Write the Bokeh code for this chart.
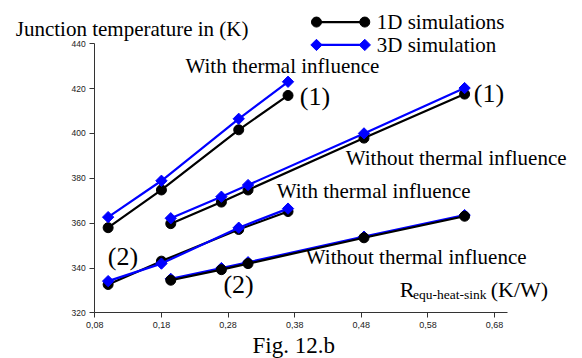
import numpy as np
from bokeh.plotting import figure
from bokeh.models import Label, FixedTicker, Range1d
from bokeh.embed import file_html
from bokeh.resources import INLINE

# ---- data ----
x_short = [0.10, 0.18, 0.296, 0.37]
x_long = [0.194, 0.27, 0.31, 0.484, 0.635]

with1_1d = [358.0, 374.8, 401.6, 416.9]
with1_3d = [362.7, 378.9, 406.5, 423.0]
without1_1d = [359.8, 369.4, 374.8, 397.9, 417.5]
without1_3d = [362.2, 371.8, 377.0, 400.0, 420.2]
with2_1d = [332.7, 343.1, 357.2, 365.2]
with2_3d = [334.2, 342.0, 358.0, 366.5]
without2_1d = [334.6, 339.3, 342.0, 353.5, 363.1]
without2_3d = [335.2, 340.0, 342.6, 354.0, 363.6]

x_ticks = [0.08, 0.18, 0.28, 0.38, 0.48, 0.58, 0.68]
x_tick_labels = ["0,08", "0,18", "0,28", "0,38", "0,48", "0,58", "0,68"]
y_ticks = [320, 340, 360, 380, 400, 420, 440]

BLACK = "#000000"
BLUE = "#0000FF"
SERIF = "Liberation Serif"
SANS = "Liberation Sans"
PX_PER_K = 2.245

p = figure(width=582, height=358, x_range=Range1d(-0.06153, 0.81195), y_range=Range1d(299.73, 459.2),
           min_border_left=0, min_border_right=0, min_border_top=0, min_border_bottom=0,
           toolbar_location=None, output_backend="svg")
p.outline_line_color = None
p.xgrid.visible = False
p.ygrid.visible = False
p.background_fill_color = "white"
p.border_fill_color = "white"

for ax in (p.xaxis[0], p.yaxis[0]):
    ax.axis_line_color = "#333333"
    ax.major_tick_line_color = "#333333"
    ax.major_tick_out = 5
    ax.major_tick_in = 0
    ax.minor_tick_line_color = None
    ax.major_label_text_font = SANS
    ax.major_label_text_color = "#222222"
    ax.major_label_standoff = 4

p.xaxis.fixed_location = 320
p.yaxis.fixed_location = 0.08
p.xaxis.bounds = (0.08, 0.70)
p.yaxis.bounds = (320, 440)
p.xaxis.ticker = FixedTicker(ticks=x_ticks)
p.yaxis.ticker = FixedTicker(ticks=y_ticks)
p.xaxis.major_label_overrides = {t: s for t, s in zip(x_ticks, x_tick_labels)}
p.xaxis.major_label_text_font_size = "9px"
p.yaxis.major_label_text_font_size = "8.5px"


def draw(xs, ys, color, kind):
    p.line(xs, ys, line_color=color, line_width=2.2)
    if kind == "1d":
        p.scatter(xs, ys, marker="circle", size=10, fill_color=color, line_color=color)
    else:
        p.scatter(xs, ys, marker="square", size=8, angle=np.pi / 4, fill_color=color, line_color=color)


draw(x_short, with1_1d, BLACK, "1d")
draw(x_short, with1_3d, BLUE, "3d")
draw(x_long, without1_1d, BLACK, "1d")
draw(x_long, without1_3d, BLUE, "3d")
draw(x_short, with2_1d, BLACK, "1d")
draw(x_short, with2_3d, BLUE, "3d")
draw(x_long, without2_3d, BLUE, "3d")
draw(x_long, without2_1d, BLACK, "1d")

# legend samples
leg_x = [0.4127, 0.4852]
draw(leg_x, [449.6, 449.6], BLACK, "1d")
draw(leg_x, [439.4, 439.4], BLUE, "3d")


def lab(x, y, text, size=21):
    y_adj = y + 0.3 * size / PX_PER_K
    p.add_layout(Label(x=x, y=y_adj, text=text, text_font=SERIF, text_font_size=f"{size}px",
                       text_color="black", text_baseline="alphabetic", text_align="left"))


lab(0.5032, 446.9, "1D simulations")
lab(0.5032, 436.7, "3D simulation")
lab(-0.0386, 443.6, "Junction temperature in (K)")
lab(0.2161, 427.0, "With thermal influence")
lab(0.3877, 413.1, "(1)", 26)
lab(0.6488, 414.4, "(1)", 26)
lab(0.4567, 386.4, "Without thermal influence")
lab(0.3531, 371.7, "With thermal influence")
lab(0.0995, 341.7, "(2)", 26)
lab(0.2731, 329.0, "(2)", 26)
lab(0.3967, 342.0, "Without thermal influence")
lab(0.5378, 327.6, "R", 22)
lab(0.5577, 326.5, "equ-heat-sink", 13.5)
lab(0.6743, 327.6, "(K/W)", 22)
lab(0.3167, 302.3, "Fig. 12.b", 23)

open("out.html", "w").write(file_html(p, INLINE))
